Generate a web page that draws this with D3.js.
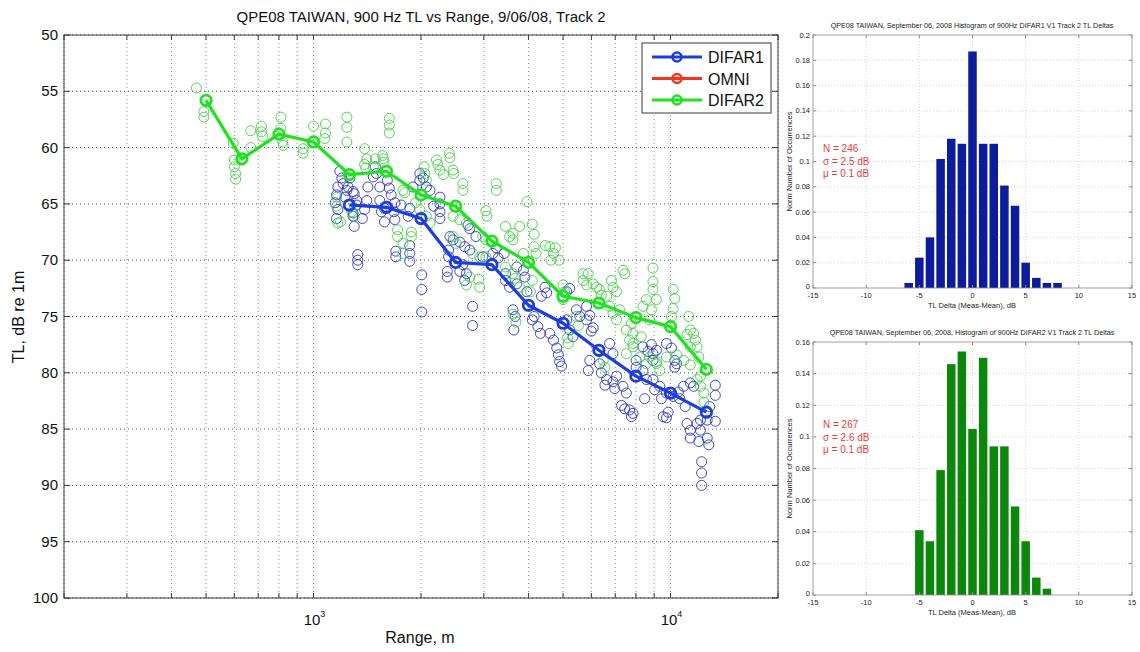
<!DOCTYPE html>
<html>
<head>
<meta charset="utf-8">
<script src="https://cdn.jsdelivr.net/npm/d3@7"></script>
<style>
body { margin: 0; background: #fff; }
text { font-family: "Liberation Sans", Arial, Helvetica, sans-serif; }
</style>
</head>
<body>
<svg id="chart" width="1140" height="652"></svg>
<script>
// ---- main plot data ----
var binRanges = [500, 630, 800, 1000, 1260, 1600, 2000, 2500, 3160, 4000, 5000, 6300, 8000, 10000, 12600];
var difar1Mean = [null, null, null, null, 65.1, 65.3, 66.3, 70.2, 70.4, 74.0, 75.6, 78.0, 80.3, 81.8, 83.5];
var difar2Mean = [55.8, 61.0, 58.8, 59.5, 62.4, 62.1, 64.2, 65.2, 68.3, 70.2, 73.2, 73.8, 75.1, 75.9, 79.7];
var tlTicks = [50, 55, 60, 65, 70, 75, 80, 85, 90, 95, 100];
var rangeLabels = [[1000, "3"], [10000, "4"]];
var legendNames = ["DIFAR1", "OMNI", "DIFAR2"];
var legendColors = ["#1c3de0", "#f2361c", "#1ee31e"];

// individual measurements [range m, TL dB]
var difar1Pts = [
  [1150,64.9],[1160,64.2],[1160,66.3],[1170,63.5],[1170,65.5],[1185,62.1],[1200,62.7],[1210,63.2],
  [1225,64.4],[1240,63.8],[1250,63.5],[1264,62.7],[1290,63.9],[1290,65.8],[1290,66.1],[1300,64.1],
  [1300,67.0],[1320,64.7],[1320,65.1],[1330,69.5],[1330,70.0],[1330,70.4],[1370,66.3],[1390,65.5],
  [1410,64.7],[1420,63.5],[1470,62.6],[1490,61.7],[1500,62.3],[1533,63.5],[1533,64.7],[1550,65.7],
  [1580,65.4],[1580,66.6],[1610,62.9],[1630,63.6],[1650,64.2],[1680,65.7],[1690,66.4],[1690,64.9],
  [1700,69.2],[1700,69.7],[1760,65.1],[1840,66.1],[1860,65.4],[1860,68.7],[1860,69.4],[1860,70.1],
  [1900,63.5],[1985,62.3],[1985,62.9],[2030,62.7],[2070,63.5],[2010,71.3],[2010,72.6],[2010,74.6],
  [2120,63.8],[2170,65.2],[2260,64.4],[2260,65.0],[2260,65.7],[2260,66.3],[2370,71.0],[2370,71.5],
  [2390,69.1],[2390,69.7],[2410,67.9],[2460,68.2],[2570,68.4],[2570,71.0],[2620,70.4],[2650,68.8],
  [2650,71.8],[2680,71.2],[2710,66.9],[2740,67.2],[2740,69.1],[2790,74.1],[2790,75.8],[2850,67.9],
  [2980,69.7],[3180,69.4],[3250,68.9],[3290,69.8],[3420,69.4],[3450,71.2],[3450,71.8],[3540,72.4],
  [3620,74.4],[3670,75.0],[3640,76.2],[3710,70.6],[3870,70.9],[3910,71.5],[3710,72.1],[3960,72.8],
  [4150,75.0],[4100,75.3],[4250,75.9],[4320,76.5],[4350,73.2],[4500,72.9],[4450,72.4],
  [4590,76.5],[4700,77.1],[4800,77.8],[4850,78.4],[4890,79.0],[4950,79.4],[5120,72.8],[5220,72.5],
  [5120,75.3],[5220,76.2],[5330,76.8],[5450,74.4],[5570,75.0],[5820,75.3],[5820,74.1],[5940,74.9],
  [6070,76.0],[6000,76.3],[5940,78.9],[5880,79.8],[6330,79.2],[6400,80.0],[6620,80.6],[6550,81.1],
  [6900,80.8],[6980,81.4],[7060,80.3],[6750,77.4],[6900,78.3],[7360,81.2],[7520,81.8],[7290,82.9],
  [7440,83.2],[7680,83.3],[7770,83.9],[7850,83.6],[8010,78.9],[8010,79.5],[8370,79.8],[8560,80.6],
  [8370,77.7],[8650,78.1],[8840,77.5],[9130,78.0],[8460,82.3],[8930,78.9],[8930,78.3],[8930,80.6],
  [9030,81.5],[9330,81.2],[9740,81.8],[10170,82.1],[9430,82.3],[9540,83.9],[9740,84.0],[9850,83.5],
  [10280,78.9],[10280,79.5],[9740,77.4],[10060,77.8],[10400,79.2],[10520,81.7],[10610,82.3],[10990,83.0],
  [10880,81.2],[11360,80.9],[11610,81.2],[11120,84.5],[11360,85.1],[11870,84.5],[12130,85.1],[11360,85.8],
  [12000,86.1],[12670,85.8],[12800,86.4],[12130,84.2],[12670,84.2],[13350,81.1],[13350,82.0],[13350,84.3],
  [12220,87.9],[12220,88.9],[12220,90.0],[12870,83.0]
];
var difar2Pts = [
  [470,54.7],[493,56.8],[493,57.3],[596,59.6],[600,61.1],[600,61.7],[605,62.3],[605,62.8],[667,58.5],
  [667,60.0],[715,58.1],[715,58.6],[720,59.0],[810,57.3],[810,58.3],[820,59.5],[822,59.8],[935,60.1],
  [935,60.5],[1000,58.1],[1000,59.5],[1080,57.9],[1080,58.7],[1075,59.2],[1160,64.4],[1160,65.2],
  [1170,66.7],[1190,66.6],[1240,57.3],[1240,58.2],[1240,59.5],[1280,65.7],[1300,66.1],[1390,60.1],
  [1390,61.5],[1400,61.8],[1410,61.0],[1470,61.7],[1490,61.0],[1570,61.0],[1570,61.3],[1560,60.7],
  [1630,57.4],[1630,58.0],[1630,58.7],[1720,67.3],[1720,67.9],[1780,63.8],[1780,68.5],[1780,69.4],
  [1800,64.0],[1880,67.5],[1880,67.9],[1930,64.9],[1985,65.5],[2040,61.7],[2050,62.3],[2070,62.9],
  [2070,66.1],[2120,66.7],[2210,61.1],[2230,61.5],[2260,62.0],[2310,62.4],[2400,60.5],[2410,60.9],
  [2460,62.0],[2470,62.3],[2460,66.1],[2460,67.9],[2510,68.5],[2570,66.4],[2620,63.2],[2620,63.8],
  [2680,66.7],[2680,72.2],[2740,71.5],[2790,69.4],[2900,71.7],[2920,72.4],[2920,69.7],[3040,69.7],
  [2980,67.9],[3040,68.2],[3040,65.6],[3060,66.1],[3250,63.2],[3250,63.8],[3450,67.0],[3780,67.0],
  [3620,67.6],[3540,67.9],[3620,68.2],[4100,66.8],[4150,67.7],[3960,64.8],[3450,70.6],[3620,71.2],
  [3670,71.6],[3780,72.4],[4100,71.8],[4050,72.8],[3620,74.8],[3690,75.5],[4150,68.8],[3870,69.4],
  [4200,69.4],[4460,68.7],[4590,68.8],[4700,69.4],[4870,70.0],[4620,70.0],[4760,68.9],[5000,72.2],
  [5050,72.8],[5000,73.5],[5150,76.9],[5170,77.4],[5450,75.0],[5520,75.8],[5690,71.8],[5690,71.2],
  [5820,72.2],[5880,71.2],[6070,72.1],[6210,72.4],[6330,72.6],[6400,73.1],[6620,73.2],[6480,78.9],
  [6550,79.5],[6750,74.1],[6830,71.8],[6900,72.4],[6900,74.7],[7060,72.8],[7060,75.3],[7200,74.4],
  [7360,70.9],[7450,71.2],[7520,76.2],[7520,78.3],[7680,77.1],[7770,75.6],[7850,76.5],[7850,77.4],
  [7850,77.7],[8200,78.6],[8280,76.8],[8370,74.1],[8560,73.5],[8560,79.2],[8740,75.3],[8740,78.6],
  [8840,74.4],[8930,70.7],[8930,71.9],[8930,72.6],[9130,73.5],[9130,79.2],[9130,79.0],[9330,79.8],
  [9740,78.6],[10060,75.0],[10170,72.6],[10170,74.3],[10280,73.4],[10400,78.4],[10880,78.9],
  [11240,75.0],[11360,76.2],[11120,76.6],[11610,76.5],[11740,77.1],[11870,77.7],[11360,77.7],
  [12000,78.6],[11360,79.3],[11870,80.6],[12130,80.3],[12130,81.2],[12400,81.8],[12400,82.6]
];

// ---- histogram data ----
var delta1Bins = [-6, -5, -4, -3, -2, -1, 0, 1, 2, 3, 4, 5, 6, 7, 8];
var delta1Frac = [0.004, 0.024, 0.040, 0.102, 0.118, 0.114, 0.187, 0.114, 0.114, 0.081, 0.065, 0.020, 0.008, 0.004, 0.004];
var delta2Bins = [-5, -4, -3, -2, -1, 0, 1, 2, 3, 4, 5, 6, 7];
var delta2Frac = [0.041, 0.034, 0.079, 0.146, 0.154, 0.105, 0.150, 0.094, 0.094, 0.056, 0.034, 0.011, 0.004];
var deltaTicks = [-15, -10, -5, 0, 5, 10, 15];
var hist1YTicks = [0, 0.02, 0.04, 0.06, 0.08, 0.1, 0.12, 0.14, 0.16, 0.18, 0.2];
var hist2YTicks = [0, 0.02, 0.04, 0.06, 0.08, 0.1, 0.12, 0.14, 0.16];
var hist1Stats = ["N = 246", "\u03c3 = 2.5 dB", "\u03bc = 0.1 dB"];
var hist2Stats = ["N = 267", "\u03c3 = 2.6 dB", "\u03bc = 0.1 dB"];

var svg = d3.select("#chart");
svg.append("rect").attr("width", 1140).attr("height", 652).attr("fill", "#fff");

// ================= main TL vs range plot =================
var x = d3.scaleLog().domain([200, 20000]).range([64, 778]);
var y = d3.scaleLinear().domain([50, 100]).range([35, 598]);
var main = svg.append("g");

// grid
main.selectAll("line.vgrid")
    .data(x.ticks())
    .enter()
    .append("line")
    .attr("x1", function(d) { return x(d); })
    .attr("x2", function(d) { return x(d); })
    .attr("y1", y(50))
    .attr("y2", y(100))
    .attr("stroke", "#8a8a8a")
    .attr("stroke-width", 1)
    .attr("stroke-dasharray", "1,3");

main.selectAll("line.hgrid")
    .data(tlTicks)
    .enter()
    .append("line")
    .attr("x1", x(200))
    .attr("x2", x(20000))
    .attr("y1", function(d) { return y(d); })
    .attr("y2", function(d) { return y(d); })
    .attr("stroke", "#555")
    .attr("stroke-width", 1)
    .attr("stroke-dasharray", "1,3");

// scatter
main.selectAll("circle.d1")
    .data(difar1Pts)
    .enter()
    .append("circle")
    .attr("cx", function(d) { return x(d[0]); })
    .attr("cy", function(d) { return y(d[1]); })
    .attr("r", 5)
    .attr("fill", "none")
    .attr("stroke", "#2b33cc")
    .attr("stroke-width", 0.9);

main.selectAll("circle.d2")
    .data(difar2Pts)
    .enter()
    .append("circle")
    .attr("cx", function(d) { return x(d[0]); })
    .attr("cy", function(d) { return y(d[1]); })
    .attr("r", 5)
    .attr("fill", "none")
    .attr("stroke", "#3fd03f")
    .attr("stroke-width", 0.9);

// mean lines
function meanSeries(vals) {
    return binRanges.map(function(r, i) { return [r, vals[i]]; })
        .filter(function(d) { return d[1] != null; });
}
var line = d3.line()
    .x(function(d) { return x(d[0]); })
    .y(function(d) { return y(d[1]); });

[[difar1Mean, legendColors[0]], [difar2Mean, legendColors[2]]].forEach(function(s) {
    var pts = meanSeries(s[0]);
    main.append("path")
        .attr("d", line(pts))
        .attr("fill", "none")
        .attr("stroke", s[1])
        .attr("stroke-width", 3.2)
        .attr("stroke-linejoin", "round");
    main.selectAll(null)
        .data(pts)
        .enter()
        .append("circle")
        .attr("cx", function(d) { return x(d[0]); })
        .attr("cy", function(d) { return y(d[1]); })
        .attr("r", 5.2)
        .attr("fill", "none")
        .attr("stroke", s[1])
        .attr("stroke-width", 2.8);
});

// frame and ticks
main.append("rect")
    .attr("x", 64).attr("y", 35)
    .attr("width", 714).attr("height", 563)
    .attr("fill", "none")
    .attr("stroke", "#3a3a3a")
    .attr("stroke-width", 1);

x.ticks().forEach(function(d) {
    main.append("line").attr("x1", x(d)).attr("x2", x(d)).attr("y1", 598).attr("y2", 593).attr("stroke", "#3a3a3a");
    main.append("line").attr("x1", x(d)).attr("x2", x(d)).attr("y1", 35).attr("y2", 40).attr("stroke", "#3a3a3a");
});
tlTicks.forEach(function(d) {
    main.append("line").attr("x1", 64).attr("x2", 70).attr("y1", y(d)).attr("y2", y(d)).attr("stroke", "#3a3a3a");
    main.append("line").attr("x1", 778).attr("x2", 772).attr("y1", y(d)).attr("y2", y(d)).attr("stroke", "#3a3a3a");
});

main.selectAll("text.ytick")
    .data(tlTicks)
    .enter()
    .append("text")
    .attr("x", 58)
    .attr("y", function(d) { return y(d) + 5; })
    .attr("text-anchor", "end")
    .attr("font-size", 15)
    .attr("fill", "#111")
    .text(function(d) { return d; });

rangeLabels.forEach(function(d) {
    var t = main.append("text")
        .attr("x", x(d[0]) + 1)
        .attr("y", 625)
        .attr("text-anchor", "middle")
        .attr("font-size", 15)
        .attr("fill", "#111");
    t.append("tspan").text("10");
    t.append("tspan").attr("dy", -8).attr("font-size", 9).text(d[1]);
});

main.append("text")
    .attr("x", 421).attr("y", 22)
    .attr("text-anchor", "middle")
    .attr("font-size", 15)
    .attr("fill", "#111")
    .text("QPE08 TAIWAN, 900 Hz TL vs Range, 9/06/08, Track 2");

main.append("text")
    .attr("x", 420).attr("y", 643)
    .attr("text-anchor", "middle")
    .attr("font-size", 16)
    .attr("fill", "#111")
    .text("Range, m");

main.append("text")
    .attr("transform", "translate(24,317) rotate(-90)")
    .attr("text-anchor", "middle")
    .attr("font-size", 16)
    .attr("fill", "#111")
    .text("TL, dB re 1m");

// legend
var leg = main.append("g");
leg.append("rect")
    .attr("x", 642).attr("y", 43)
    .attr("width", 129).attr("height", 70)
    .attr("fill", "#fff")
    .attr("stroke", "#3a3a3a");
legendNames.forEach(function(name, i) {
    var ly = 57 + i * 21.5;
    leg.append("line").attr("x1", 652).attr("x2", 702).attr("y1", ly).attr("y2", ly)
        .attr("stroke", legendColors[i]).attr("stroke-width", 3.2);
    leg.append("circle").attr("cx", 677).attr("cy", ly).attr("r", 4.5)
        .attr("fill", "none").attr("stroke", legendColors[i]).attr("stroke-width", 2.6);
    leg.append("text").attr("x", 708).attr("y", ly + 6)
        .attr("font-size", 16).attr("fill", "#111").text(name);
});

// ================= histograms =================
var hx = d3.scaleLinear().domain([-15, 15]).range([813, 1132]);

function drawHist(top, bottom, yTicks, bins, fracs, color, title, stats, statY) {
    var hy = d3.scaleLinear().domain([0, yTicks[yTicks.length - 1]]).range([bottom, top]);
    var g = svg.append("g");

    g.selectAll(null).data(deltaTicks.slice(1, -1)).enter().append("line")
        .attr("x1", function(d) { return hx(d); }).attr("x2", function(d) { return hx(d); })
        .attr("y1", top).attr("y2", bottom)
        .attr("stroke", "#c4c4c4").attr("stroke-width", 0.7).attr("stroke-dasharray", "1,2");
    g.selectAll(null).data(yTicks.slice(1, -1)).enter().append("line")
        .attr("x1", hx(-15)).attr("x2", hx(15))
        .attr("y1", function(d) { return hy(d); }).attr("y2", function(d) { return hy(d); })
        .attr("stroke", "#c4c4c4").attr("stroke-width", 0.7).attr("stroke-dasharray", "1,2");

    g.selectAll(null).data(bins).enter().append("rect")
        .attr("x", function(d) { return hx(d - 0.4); })
        .attr("width", hx(0.4) - hx(-0.4))
        .attr("y", function(d, i) { return hy(fracs[i]); })
        .attr("height", function(d, i) { return bottom - hy(fracs[i]); })
        .attr("fill", color);

    g.append("rect")
        .attr("x", hx(-15)).attr("y", top)
        .attr("width", hx(15) - hx(-15)).attr("height", bottom - top)
        .attr("fill", "none").attr("stroke", "#8c8c8c").attr("stroke-width", 0.8);

    deltaTicks.forEach(function(d) {
        g.append("line").attr("x1", hx(d)).attr("x2", hx(d)).attr("y1", bottom).attr("y2", bottom - 3).attr("stroke", "#8c8c8c");
        g.append("line").attr("x1", hx(d)).attr("x2", hx(d)).attr("y1", top).attr("y2", top + 3).attr("stroke", "#8c8c8c");
    });
    yTicks.forEach(function(d) {
        g.append("line").attr("x1", hx(-15)).attr("x2", hx(-15) + 3).attr("y1", hy(d)).attr("y2", hy(d)).attr("stroke", "#8c8c8c");
        g.append("line").attr("x1", hx(15)).attr("x2", hx(15) - 3).attr("y1", hy(d)).attr("y2", hy(d)).attr("stroke", "#8c8c8c");
    });

    g.selectAll(null).data(yTicks).enter().append("text")
        .attr("x", hx(-15) - 3)
        .attr("y", function(d) { return hy(d) + (d === 0 ? 0.5 : 2.5); })
        .attr("text-anchor", "end")
        .attr("font-size", 7.5)
        .attr("fill", "#222")
        .text(function(d) { return String(+d.toFixed(2)); });

    g.selectAll(null).data(deltaTicks).enter().append("text")
        .attr("x", function(d) { return hx(d); })
        .attr("y", bottom + 10)
        .attr("text-anchor", "middle")
        .attr("font-size", 7.5)
        .attr("fill", "#222")
        .text(function(d) { return d; });

    g.append("text")
        .attr("x", 972).attr("y", top - 7)
        .attr("text-anchor", "middle")
        .attr("font-size", 7.2)
        .attr("fill", "#222")
        .text(title);

    g.append("text")
        .attr("x", 972).attr("y", bottom + 19.5)
        .attr("text-anchor", "middle")
        .attr("font-size", 7.5)
        .attr("fill", "#222")
        .text("TL Delta (Meas-Mean), dB");

    g.append("text")
        .attr("transform", "translate(792," + ((top + bottom) / 2) + ") rotate(-90)")
        .attr("text-anchor", "middle")
        .attr("font-size", 7.5)
        .attr("fill", "#222")
        .text("Norm Number of Occurrences");

    stats.forEach(function(s, i) {
        g.append("text")
            .attr("x", 823).attr("y", statY + i * 12.5)
            .attr("font-size", 10)
            .attr("fill", "#ee3a3a")
            .text(s);
    });
}

drawHist(35, 288, hist1YTicks, delta1Bins, delta1Frac, "#0c1c9a",
    "QPE08  TAIWAN, September 06, 2008 Histogram of 900Hz DIFAR1 V1 Track 2 TL Deltas", hist1Stats, 152);
drawHist(342, 595, hist2YTicks, delta2Bins, delta2Frac, "#0b870b",
    "QPE08  TAIWAN, September 06, 2008, Histogram of 900Hz DIFAR2 V1 Track 2 TL Deltas", hist2Stats, 428);
</script>
</body>
</html>
